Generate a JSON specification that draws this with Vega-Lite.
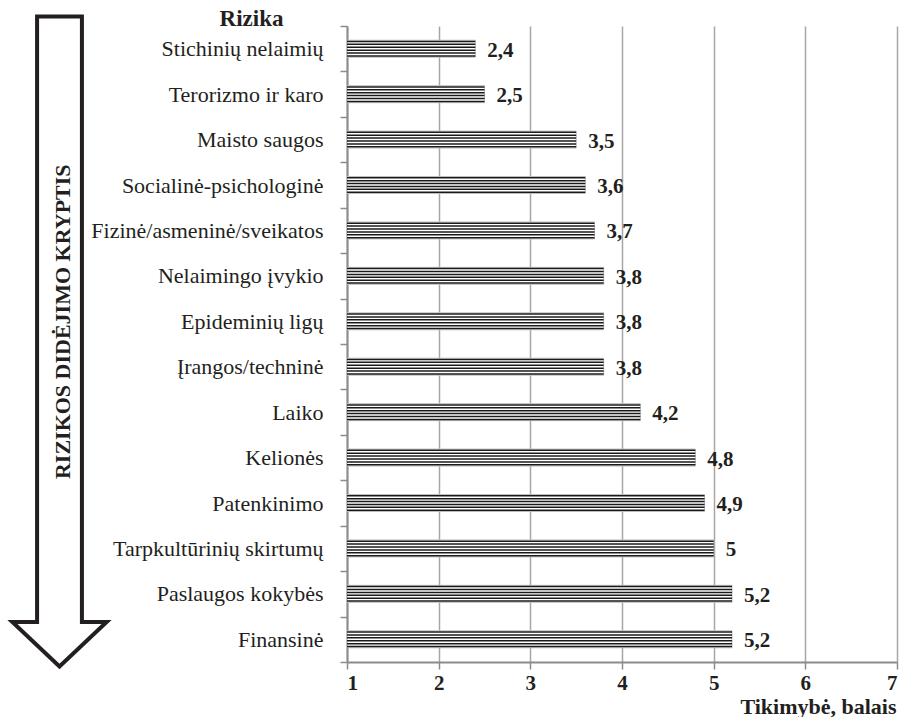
{
  "$schema": "https://vega.github.io/schema/vega-lite/v6.json",
  "padding": {"left": 4, "top": 7, "right": 5, "bottom": 0},
  "bounds": "flush",
  "spacing": 241,
  "config": {
    "locale": {"number": {"decimal": ",", "thousands": " ", "grouping": [3], "currency": ["", " €"]}},
    "view": {"stroke": null},
    "font": "Liberation Serif"
  },
  "datasets": {
    "rizika": [
      {"cat": "Stichinių nelaimių", "value": 2.4},
      {"cat": "Terorizmo ir karo", "value": 2.5},
      {"cat": "Maisto saugos", "value": 3.5},
      {"cat": "Socialinė-psichologinė", "value": 3.6},
      {"cat": "Fizinė/asmeninė/sveikatos", "value": 3.7},
      {"cat": "Nelaimingo įvykio", "value": 3.8},
      {"cat": "Epideminių ligų", "value": 3.8},
      {"cat": "Įrangos/techninė", "value": 3.8},
      {"cat": "Laiko", "value": 4.2},
      {"cat": "Kelionės", "value": 4.8},
      {"cat": "Patenkinimo", "value": 4.9},
      {"cat": "Tarpkultūrinių skirtumų", "value": 5},
      {"cat": "Paslaugos kokybės", "value": 5.2},
      {"cat": "Finansinė", "value": 5.2}
    ]
  },
  "hconcat": [
    {
      "width": 100,
      "height": 636,
      "data": {"values": [{}]},
      "layer": [
        {
          "mark": {"type": "point", "shape": "M-0.069,-1L0.069,-1L0.069,0.863L0.145,0.863L0,1L-0.145,0.863L-0.069,0.863Z", "size": 422500, "filled": true, "fill": "white", "stroke": "#231f20", "strokeWidth": 4, "opacity": 1, "strokeJoin": "miter"},
          "encoding": {
            "x": {"datum": 0.535, "type": "quantitative", "scale": {"domain": [0, 1]}, "axis": null},
            "y": {"datum": 0.504, "type": "quantitative", "scale": {"domain": [0, 1]}, "axis": null}
          }
        },
        {
          "mark": {"type": "text", "text": "RIZIKOS DIDĖJIMO KRYPTIS", "angle": 270, "font": "Liberation Serif", "fontWeight": "bold", "fontSize": 22, "align": "center", "baseline": "middle", "color": "#231f20"},
          "encoding": {
            "x": {"datum": 0.57, "type": "quantitative"},
            "y": {"datum": 0.535, "type": "quantitative"}
          }
        }
      ]
    },
    {
      "width": 550,
      "height": 636,
      "data": {"name": "rizika"},
      "encoding": {
        "y": {
          "field": "cat", "type": "nominal", "sort": null,
          "scale": {"paddingInner": 0, "paddingOuter": 0},
          "axis": {
            "title": "Rizika", "titleAngle": 0, "titleFontWeight": "bold", "titleFontSize": 23, "titleFont": "Liberation Serif", "titleColor": "#231f20",
            "titleX": -96, "titleY": -1, "titleAlign": "center", "titleBaseline": "alphabetic",
            "labelFont": "Liberation Serif", "labelFontSize": 22, "labelColor": "#231f20", "labelPadding": 17, "labelLimit": 400,
            "tickSize": 7, "tickColor": "#8c8c8c", "tickWidth": 1.5, "tickBand": "extent",
            "domainColor": "#8c8c8c", "domainWidth": 2, "grid": false
          }
        }
      },
      "layer": [
        {
          "mark": {"type": "bar", "height": 17, "fill": "white", "stroke": "#bdbdbd", "strokeWidth": 1},
          "encoding": {
            "x": {
              "field": "value", "type": "quantitative",
              "scale": {"domain": [1, 7], "zero": false, "nice": false},
              "axis": {
                "title": "Tikimybė, balais", "values": [1, 2, 3, 4, 5, 6, 7], "format": "d",
                "labelFont": "Liberation Serif", "labelFontWeight": "bold", "labelFontSize": 21, "labelColor": "#231f20", "labelPadding": 3,
                "tickSize": 7, "tickColor": "#8c8c8c", "tickWidth": 1.5,
                "domainColor": "#8c8c8c", "domainWidth": 2,
                "grid": true, "gridColor": "#a6a6a6", "gridWidth": 1.5,
                "titleFont": "Liberation Serif", "titleFontWeight": "bold", "titleFontSize": 22, "titleColor": "#231f20",
                "titleAnchor": "end", "titleAlign": "right", "titleX": 549, "titleY": 51, "titleBaseline": "alphabetic"
              }
            },
            "x2": {"datum": 1}
          }
        },
        {"mark": {"type": "rule", "yOffset": -7.25, "color": "#1a1a1a", "strokeWidth": 1.5}, "encoding": {"x": {"field": "value", "type": "quantitative"}, "x2": {"datum": 1}}},
        {"mark": {"type": "rule", "yOffset": -4.35, "color": "#1a1a1a", "strokeWidth": 1.5}, "encoding": {"x": {"field": "value", "type": "quantitative"}, "x2": {"datum": 1}}},
        {"mark": {"type": "rule", "yOffset": -1.45, "color": "#1a1a1a", "strokeWidth": 1.5}, "encoding": {"x": {"field": "value", "type": "quantitative"}, "x2": {"datum": 1}}},
        {"mark": {"type": "rule", "yOffset": 1.45, "color": "#1a1a1a", "strokeWidth": 1.5}, "encoding": {"x": {"field": "value", "type": "quantitative"}, "x2": {"datum": 1}}},
        {"mark": {"type": "rule", "yOffset": 4.35, "color": "#1a1a1a", "strokeWidth": 1.5}, "encoding": {"x": {"field": "value", "type": "quantitative"}, "x2": {"datum": 1}}},
        {"mark": {"type": "rule", "yOffset": 7.25, "color": "#1a1a1a", "strokeWidth": 1.5}, "encoding": {"x": {"field": "value", "type": "quantitative"}, "x2": {"datum": 1}}},
        {
          "mark": {"type": "text", "align": "left", "baseline": "middle", "dx": 12, "dy": 2, "font": "Liberation Serif", "fontWeight": "bold", "fontSize": 21, "color": "#231f20"},
          "encoding": {
            "x": {"field": "value", "type": "quantitative"},
            "text": {"field": "value", "type": "quantitative", "format": "~g"}
          }
        }
      ]
    }
  ]
}
